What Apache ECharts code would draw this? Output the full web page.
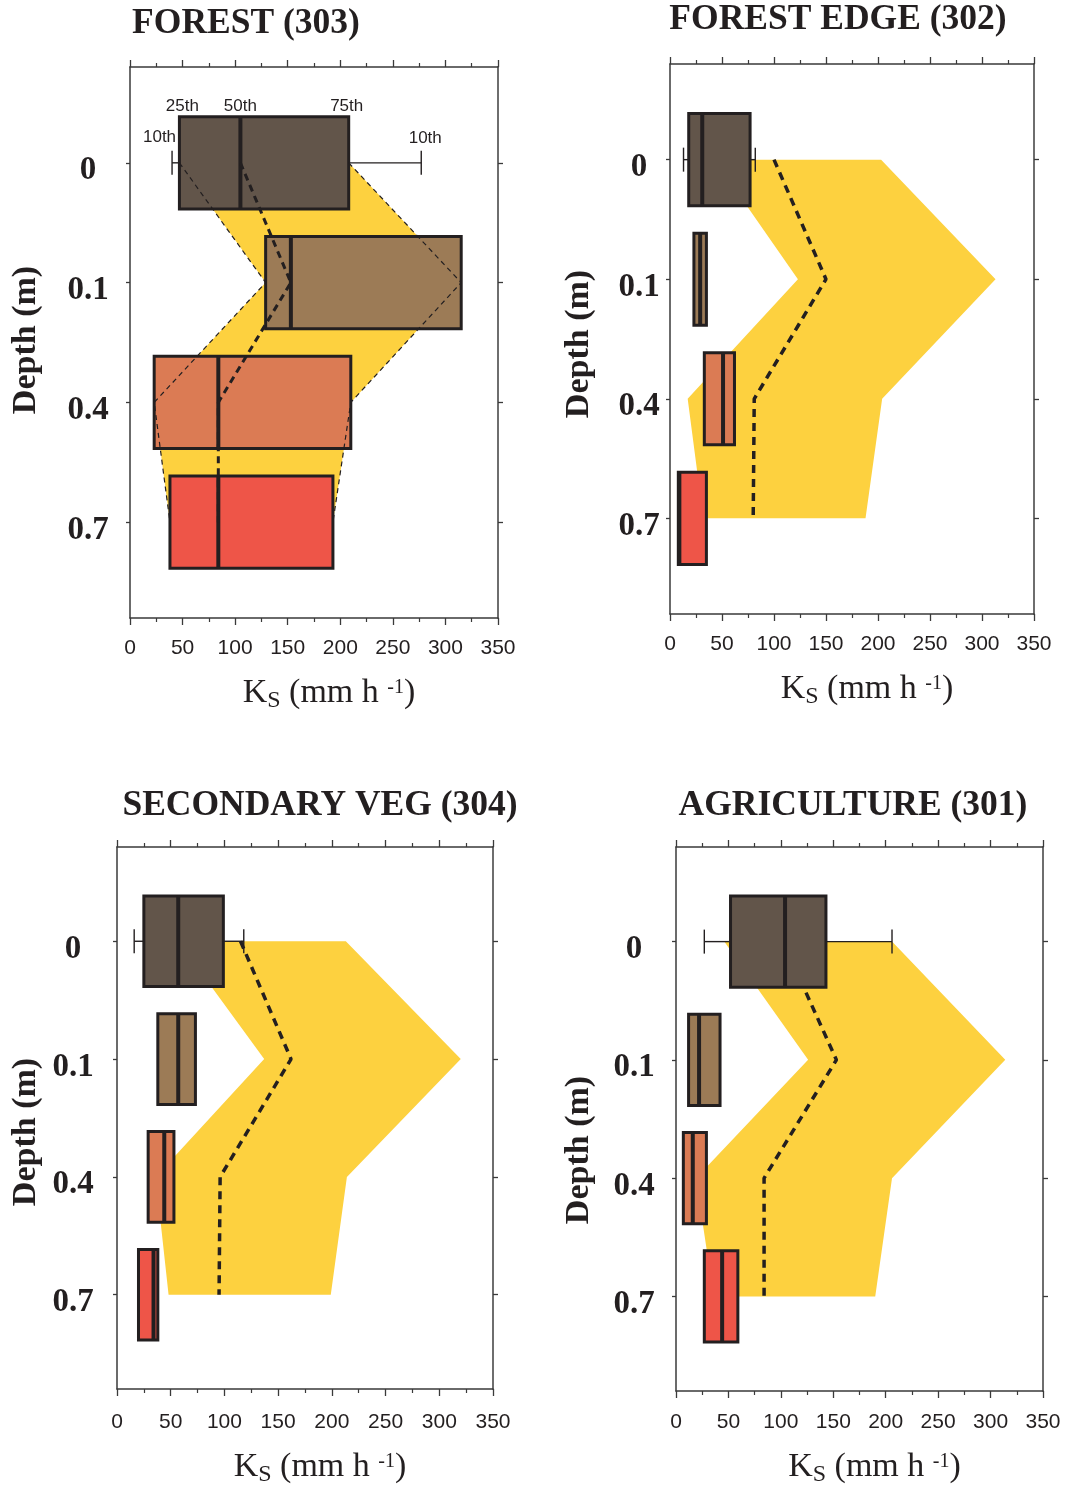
<!DOCTYPE html>
<html>
<head>
<meta charset="utf-8">
<script src="https://cdn.jsdelivr.net/npm/echarts@6/dist/echarts.min.js"></script>
<style>
  html, body { margin: 0; padding: 0; background: #ffffff; }
  #chart { width: 1069px; height: 1488px; }
</style>
</head>
<body>
<div id="chart"></div>
<script>
// Depth classes (y axis) and the percentile names written on the surface box of the forest panel
const depthLabels = ['0', '0.1', '0.4', '0.7'];
const percentileNames = ['10th', '25th', '50th', '75th', '10th'];

// FOREST (303) – Ks percentiles, mm h-1
const forestLow  = [40, null, null, null];
const forestQ1   = [47, 129, 23, 38];
const forestMed  = [105, 153, 84, 84];
const forestQ3   = [208, 315, 210, 193];
const forestHigh = [277, null, null, null];

// FOREST EDGE (302)
const edgeLow  = [13, null, null, null];
const edgeQ1   = [18, 23, 33, 8];
const edgeMed  = [31, 29, 51, 9];
const edgeQ3   = [77, 35, 62, 35];
const edgeHigh = [82, null, null, null];
// forest interquartile band and median drawn behind the edge boxes
const edgeRefLeft  = [43, 123, 17, 32];
const edgeRefRight = [203, 313, 204, 188];
const edgeRefMed   = [100, 150, 81, 80];

// SECONDARY VEG (304)
const secLow  = [16, null, null, null];
const secQ1   = [25, 38, 29, 20];
const secMed  = [57, 57, 44, 34];
const secQ3   = [99, 73, 53, 38];
const secHigh = [118, null, null, null];
const secRefLeft  = [57, 137, 36, 48];
const secRefRight = [213, 320, 214, 199];
const secRefMed   = [115, 162, 96, 95];

// AGRICULTURE (301)
const agLow  = [27, null, null, null];
const agQ1   = [52, 12, 7, 27];
const agMed  = [104, 22, 16, 44];
const agQ3   = [143, 42, 29, 59];
const agHigh = [206, null, null, null];
const agRefLeft  = [46, 126, 19, 36];
const agRefRight = [206, 314, 206, 190];
const agRefMed   = [102, 153, 84, 84];

const panelTitles = ['FOREST (303)', 'FOREST EDGE (302)', 'SECONDARY VEG (304)', 'AGRICULTURE (301)'];

// ---- styling ----
const INK = '#231F20';
const AXIS = '#3a3a3a';
const BAND = '#FDD13F';
const SERIF = '"Liberation Serif", "Times New Roman", serif';
const SANS = '"Liberation Sans", Arial, sans-serif';
const depthColors = ['#62554A', '#9C7B56', '#DB7B54', '#EE5548'];
const BOX_HALF = 0.385;   // half box height in depth-slot units
const CAP_HALF = 12;      // whisker cap half length, px

const grids = [
  { left: 130, top: 67, width: 368, height: 551 },
  { left: 670, top: 64, width: 364, height: 550 },
  { left: 117, top: 847, width: 376, height: 546 },
  { left: 676, top: 847, width: 367, height: 551 }
];
const yLabelMargin = [42, 31, 44, 42];
const xLabelMargin = [20, 20, 23, 21];
const xNameGap = [58, 58, 61, 59];
const titlePos = [[246, 24], [838, 20], [320, 806], [853, 806]];
const depthTitlePos = [[26, 340], [579, 344], [26, 1132], [579, 1150]];

const chart = echarts.init(document.getElementById('chart'), null, { renderer: 'canvas' });

function xAxes(k) {
  const common = {
    gridIndex: k, type: 'value', min: 0, max: 350, interval: 50,
    splitLine: { show: false },
    minorSplitLine: { show: false },
    axisTick: { show: true, inside: false, length: 7, lineStyle: { color: AXIS, width: 1.3 } },
    minorTick: { show: true, splitNumber: 2, length: 4, lineStyle: { color: AXIS, width: 1.2 } }
  };
  return [
    Object.assign({}, common, {
      position: 'bottom',
      axisLine: { show: true, onZero: false, lineStyle: { color: AXIS, width: 1.5 } },
      axisLabel: { show: true, fontFamily: SANS, fontSize: 21, color: INK, margin: xLabelMargin[k] },
      // Ks with subscript S and superscript -1
      name: '{k|K}{s|S}{t| (mm h }{p|-1}{t|)}',
      nameLocation: 'middle',
      nameGap: xNameGap[k],
      nameTextStyle: {
        padding: [0, 0, 0, 30],
        rich: {
          k: { fontFamily: SERIF, fontSize: 34, height: 34, lineHeight: 40, verticalAlign: 'top', color: INK },
          t: { fontFamily: SERIF, fontSize: 34, height: 34, lineHeight: 40, verticalAlign: 'top', color: INK },
          s: { fontFamily: SERIF, fontSize: 24, height: 24, lineHeight: 40, verticalAlign: 'top', padding: [13, 0, 0, 0], color: INK },
          p: { fontFamily: SERIF, fontSize: 20, height: 20, lineHeight: 40, verticalAlign: 'top', padding: [2, 0, 0, 0], color: INK }
        }
      }
    }),
    Object.assign({}, common, {
      position: 'top',
      axisLine: { show: true, onZero: false, lineStyle: { color: AXIS, width: 1.5 } },
      axisLabel: { show: false }
    })
  ];
}

function yAxes(k) {
  const ticks = depthLabels.map((_, i) => i);
  const common = {
    gridIndex: k, type: 'value', inverse: true, min: -0.8, max: 3.8,
    splitLine: { show: false }
  };
  return [
    Object.assign({}, common, {
      position: 'left',
      axisLine: { show: true, onZero: false, lineStyle: { color: AXIS, width: 1.5 } },
      axisTick: { show: true, inside: false, length: 4, customValues: ticks, lineStyle: { color: AXIS, width: 1.3 } },
      axisLabel: {
        show: true, customValues: ticks,
        formatter: v => depthLabels[Math.round(v)],
        fontFamily: SERIF, fontWeight: 'bold', fontSize: 33, color: INK,
        align: 'center', verticalAlign: 'top', lineHeight: 16,
        margin: yLabelMargin[k]
      }
    }),
    Object.assign({}, common, {
      position: 'right',
      axisLine: { show: true, onZero: false, lineStyle: { color: '#6e6e6e', width: 2 } },
      axisTick: { show: true, inside: false, length: 5, customValues: ticks, lineStyle: { color: AXIS, width: 1.3 } },
      axisLabel: { show: false }
    })
  ];
}

// interquartile band as a filled polygon
function bandSeries(k, left, right, z) {
  return {
    type: 'custom', xAxisIndex: 2 * k, yAxisIndex: 2 * k, z: z, silent: true,
    data: [[0, 0]],
    renderItem: function (params, api) {
      const pts = [];
      left.forEach((v, i) => pts.push(api.coord([v, i])));
      for (let i = right.length - 1; i >= 0; i--) pts.push(api.coord([right[i], i]));
      return { type: 'polygon', shape: { points: pts }, style: { fill: BAND } };
    }
  };
}

// dashed profile line through one value per depth
function dashSeries(k, values, width, dash, z) {
  return {
    type: 'line', xAxisIndex: 2 * k, yAxisIndex: 2 * k, z: z, silent: true,
    data: values.map((v, i) => [v, i]),
    symbol: 'none', smooth: false,
    lineStyle: { color: INK, width: width, type: dash }
  };
}

// box (25th-50th-75th) with 10th-percentile whiskers
function boxSeries(k, low, q1, med, q3, high, z, annotate) {
  return {
    type: 'custom', xAxisIndex: 2 * k, yAxisIndex: 2 * k, z: z, silent: true,
    encode: { x: [1, 2, 3], y: 0 },
    data: depthLabels.map((_, i) => [i, q1[i], med[i], q3[i]]),
    renderItem: function (params, api) {
      const i = api.value(0);
      const d = params.dataIndex;
      const c1 = api.coord([api.value(1), i]);
      const c2 = api.coord([api.value(2), i]);
      const c3 = api.coord([api.value(3), i]);
      const yTop = api.coord([0, i - BOX_HALF])[1];
      const yBot = api.coord([0, i + BOX_HALF])[1];
      const yc = c1[1];
      const children = [];
      const wStyle = { stroke: INK, lineWidth: 1.4 };
      let cl = null, ch = null;
      if (low[d] != null) {
        cl = api.coord([low[d], i]);
        children.push({ type: 'line', shape: { x1: cl[0], y1: yc, x2: c1[0], y2: yc }, style: wStyle });
        children.push({ type: 'line', shape: { x1: cl[0], y1: yc - CAP_HALF, x2: cl[0], y2: yc + CAP_HALF }, style: wStyle });
      }
      if (high[d] != null) {
        ch = api.coord([high[d], i]);
        children.push({ type: 'line', shape: { x1: c3[0], y1: yc, x2: ch[0], y2: yc }, style: wStyle });
        children.push({ type: 'line', shape: { x1: ch[0], y1: yc - CAP_HALF, x2: ch[0], y2: yc + CAP_HALF }, style: wStyle });
      }
      children.push({
        type: 'rect',
        shape: { x: c1[0], y: yTop, width: c3[0] - c1[0], height: yBot - yTop },
        style: { fill: depthColors[i], stroke: INK, lineWidth: 3, lineJoin: 'miter' }
      });
      children.push({
        type: 'line',
        shape: { x1: c2[0], y1: yTop, x2: c2[0], y2: yBot },
        style: { stroke: INK, lineWidth: 4 }
      });
      if (annotate && d === 0) {
        const font = '17px ' + SANS;
        const txt = (text, x, y, align) => ({
          type: 'text', x: x, y: y,
          style: { text: text, font: font, fill: INK, align: align, verticalAlign: 'bottom', textAlign: align, textVerticalAlign: 'bottom' }
        });
        children.push(txt(percentileNames[1], c1[0] + 3, yTop - 2, 'center'));
        children.push(txt(percentileNames[2], c2[0], yTop - 2, 'center'));
        children.push(txt(percentileNames[3], c3[0] - 2, yTop - 2, 'center'));
        if (cl) children.push(txt(percentileNames[0], cl[0] + 4, yc - CAP_HALF - 5, 'right'));
        if (ch) children.push(txt(percentileNames[4], ch[0] + 4, yc - CAP_HALF - 4, 'center'));
      }
      return { type: 'group', children: children };
    }
  };
}

const xAxisList = [], yAxisList = [];
for (let k = 0; k < 4; k++) {
  xAxisList.push(...xAxes(k));
  yAxisList.push(...yAxes(k));
}

const series = [
  // forest: band and dashed outlines over the boxes
  bandSeries(0, forestQ1, forestQ3, 1),
  boxSeries(0, forestLow, forestQ1, forestMed, forestQ3, forestHigh, 2, true),
  dashSeries(0, forestQ1, 1.2, [5, 4], 3),
  dashSeries(0, forestQ3, 1.2, [5, 4], 3),
  dashSeries(0, forestMed, 3, [7, 5], 3),
  // forest edge
  bandSeries(1, edgeRefLeft, edgeRefRight, 1),
  dashSeries(1, edgeRefMed, 3.5, [8, 6], 2),
  boxSeries(1, edgeLow, edgeQ1, edgeMed, edgeQ3, edgeHigh, 3, false),
  // secondary vegetation
  bandSeries(2, secRefLeft, secRefRight, 1),
  dashSeries(2, secRefMed, 3.5, [8, 6], 2),
  boxSeries(2, secLow, secQ1, secMed, secQ3, secHigh, 3, false),
  // agriculture
  bandSeries(3, agRefLeft, agRefRight, 1),
  dashSeries(3, agRefMed, 3.5, [8, 6], 2),
  boxSeries(3, agLow, agQ1, agMed, agQ3, agHigh, 3, false)
];

const graphics = [];
for (let k = 0; k < 4; k++) {
  graphics.push({
    type: 'text', x: titlePos[k][0], y: titlePos[k][1],
    style: {
      text: panelTitles[k], font: 'bold 35.5px ' + SERIF, fill: INK,
      align: 'center', verticalAlign: 'middle', textAlign: 'center', textVerticalAlign: 'middle'
    }
  });
  graphics.push({
    type: 'text', x: depthTitlePos[k][0], y: depthTitlePos[k][1], rotation: Math.PI / 2,
    style: {
      text: 'Depth (m)', font: 'bold 34px ' + SERIF, fill: INK,
      align: 'center', verticalAlign: 'middle', textAlign: 'center', textVerticalAlign: 'middle'
    }
  });
}

chart.setOption({
  animation: false,
  backgroundColor: '#ffffff',
  grid: grids.map(g => Object.assign({ containLabel: false }, g)),
  xAxis: xAxisList,
  yAxis: yAxisList,
  series: series,
  graphic: graphics
});
</script>
</body>
</html>
